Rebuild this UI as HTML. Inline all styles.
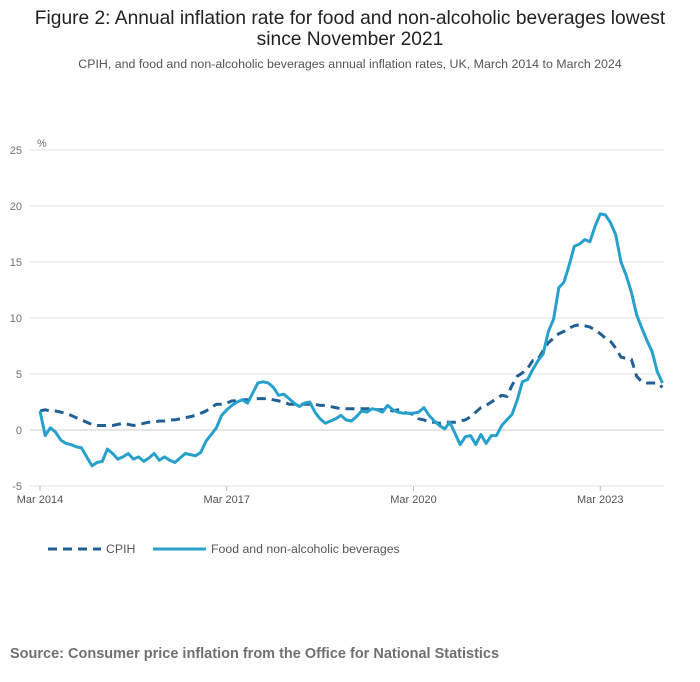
<!DOCTYPE html>
<html><head><meta charset="utf-8"><style>
body{margin:0;background:#fff;font-family:"Liberation Sans",sans-serif;}
#wrap{position:relative;width:700px;height:682px;overflow:hidden;}
.title{position:absolute;left:0;width:700px;text-align:center;color:#222;font-size:19.2px;line-height:21px;top:8px;}
.sub{position:absolute;left:0;width:700px;text-align:center;color:#555;font-size:12.4px;top:57px;}
.src{position:absolute;left:10px;top:646px;font-size:14.5px;font-weight:bold;color:#707071;}
svg{position:absolute;left:0;top:0;}
</style></head><body><div id="wrap">
<div class="title">Figure 2: Annual inflation rate for food and non-alcoholic beverages lowest<br>since November 2021</div>
<div class="sub">CPIH, and food and non-alcoholic beverages annual inflation rates, UK, March 2014 to March 2024</div>
<svg id="chart" width="700" height="682"></svg>
<div class="src">Source: Consumer price inflation from the Office for National Statistics</div>
</div>
<script>
const yTicks=[25,20,15,10,5,0,-5];
const xTickLabels=["Mar 2014","Mar 2017","Mar 2020","Mar 2023"];
const xTickMonths=[0,36,72,108];
const seriesNames=["CPIH","Food and non-alcoholic beverages"];
const cpih=[1.7,1.8,1.7,1.7,1.6,1.5,1.3,1.1,0.9,0.7,0.5,0.4,0.4,0.4,0.4,0.5,0.6,0.5,0.4,0.5,0.6,0.7,0.7,0.8,0.8,0.9,0.9,1.0,1.1,1.2,1.3,1.5,1.7,2.0,2.3,2.3,2.4,2.6,2.6,2.7,2.7,2.8,2.8,2.8,2.8,2.7,2.6,2.5,2.3,2.3,2.3,2.3,2.3,2.3,2.2,2.2,2.1,2.0,1.9,1.9,1.9,1.9,1.9,1.9,1.9,1.8,1.8,1.8,1.7,1.8,1.6,1.5,1.4,1.0,0.9,0.7,0.7,0.6,0.7,0.7,0.7,0.8,0.9,1.2,1.6,2.0,2.2,2.5,2.8,3.1,3.0,4.0,4.8,5.1,5.5,6.2,6.3,7.1,7.8,8.2,8.6,8.8,9.1,9.3,9.4,9.3,9.2,8.9,8.6,8.2,7.9,7.3,6.5,6.4,6.3,4.8,4.3,4.2,4.2,4.2,3.8];
const food=[1.7,-0.5,0.2,-0.2,-0.9,-1.2,-1.3,-1.5,-1.6,-2.4,-3.2,-2.9,-2.8,-1.7,-2.1,-2.6,-2.4,-2.1,-2.6,-2.4,-2.8,-2.5,-2.1,-2.7,-2.4,-2.7,-2.9,-2.5,-2.1,-2.2,-2.3,-2.0,-1.0,-0.4,0.2,1.3,1.8,2.2,2.5,2.7,2.4,3.3,4.2,4.3,4.2,3.8,3.1,3.2,2.8,2.4,2.1,2.4,2.5,1.6,1.0,0.6,0.8,1.0,1.3,0.9,0.8,1.2,1.7,1.6,1.9,1.8,1.6,2.2,1.8,1.6,1.5,1.5,1.5,1.6,2.0,1.3,0.8,0.4,0.1,0.7,-0.3,-1.3,-0.6,-0.5,-1.3,-0.4,-1.2,-0.5,-0.5,0.4,0.9,1.4,2.7,4.3,4.5,5.4,6.2,6.8,8.8,9.9,12.7,13.2,14.7,16.4,16.6,17.0,16.8,18.2,19.3,19.2,18.5,17.4,15.0,13.8,12.3,10.3,9.1,8.0,7.0,5.2,4.2];
const svg=document.getElementById('chart');const NS='http://www.w3.org/2000/svg';
const X0=40,X1=662.5,Y0=430,PU=11.2;
function xs(i){return X0+(X1-X0)*i/120;}
function ys(v){return Y0-v*PU;}
function mk(t,a,txt){const e=document.createElementNS(NS,t);for(const k in a)e.setAttribute(k,a[k]);if(txt!==undefined)e.textContent=txt;svg.appendChild(e);return e;}
yTicks.forEach(v=>{
 const g=mk('line',{x1:30,x2:664,y1:ys(v),y2:ys(v),stroke:v===0?'#ccc':'#e0e0e0','stroke-width':1});
 
 
 const t=mk('text',{x:22,y:ys(v)+4,'text-anchor':'end','font-size':11,fill:'#707071','font-family':'Liberation Sans'},String(v));
 
 
});
const pc=mk('text',{x:37,y:147,'font-size':11,fill:'#707071','font-family':'Liberation Sans'},'%');


xTickMonths.forEach((m,i)=>{
 const l=mk('line',{x1:xs(m),x2:xs(m),y1:486,y2:491,stroke:'#bbb'});
 
 
 const t=mk('text',{x:xs(m),y:503,'text-anchor':'middle','font-size':11,fill:'#555','font-family':'Liberation Sans'},xTickLabels[i]);
 
 
});
function path(arr){return arr.map((v,i)=>(i?'L':'M')+xs(i).toFixed(1)+','+ys(v).toFixed(1)).join('');}
const c=mk('path',{d:path(cpih),fill:'none',stroke:'#206095','stroke-width':3,'stroke-dasharray':'9,6'});


const f=mk('path',{d:path(food),fill:'none',stroke:'#27a0cc','stroke-width':3,'stroke-linejoin':'round'});


const l1=mk('line',{x1:48,x2:101,y1:549,y2:549,stroke:'#206095','stroke-width':3,'stroke-dasharray':'9,6'});


const t1=mk('text',{x:106,y:553,'font-size':12.3,fill:'#555','font-family':'Liberation Sans'},seriesNames[0]);


const l2=mk('line',{x1:153,x2:206,y1:549,y2:549,stroke:'#27a0cc','stroke-width':3});


const t2=mk('text',{x:211,y:553,'font-size':12.3,fill:'#555','font-family':'Liberation Sans'},seriesNames[1]);


</script></body></html>
